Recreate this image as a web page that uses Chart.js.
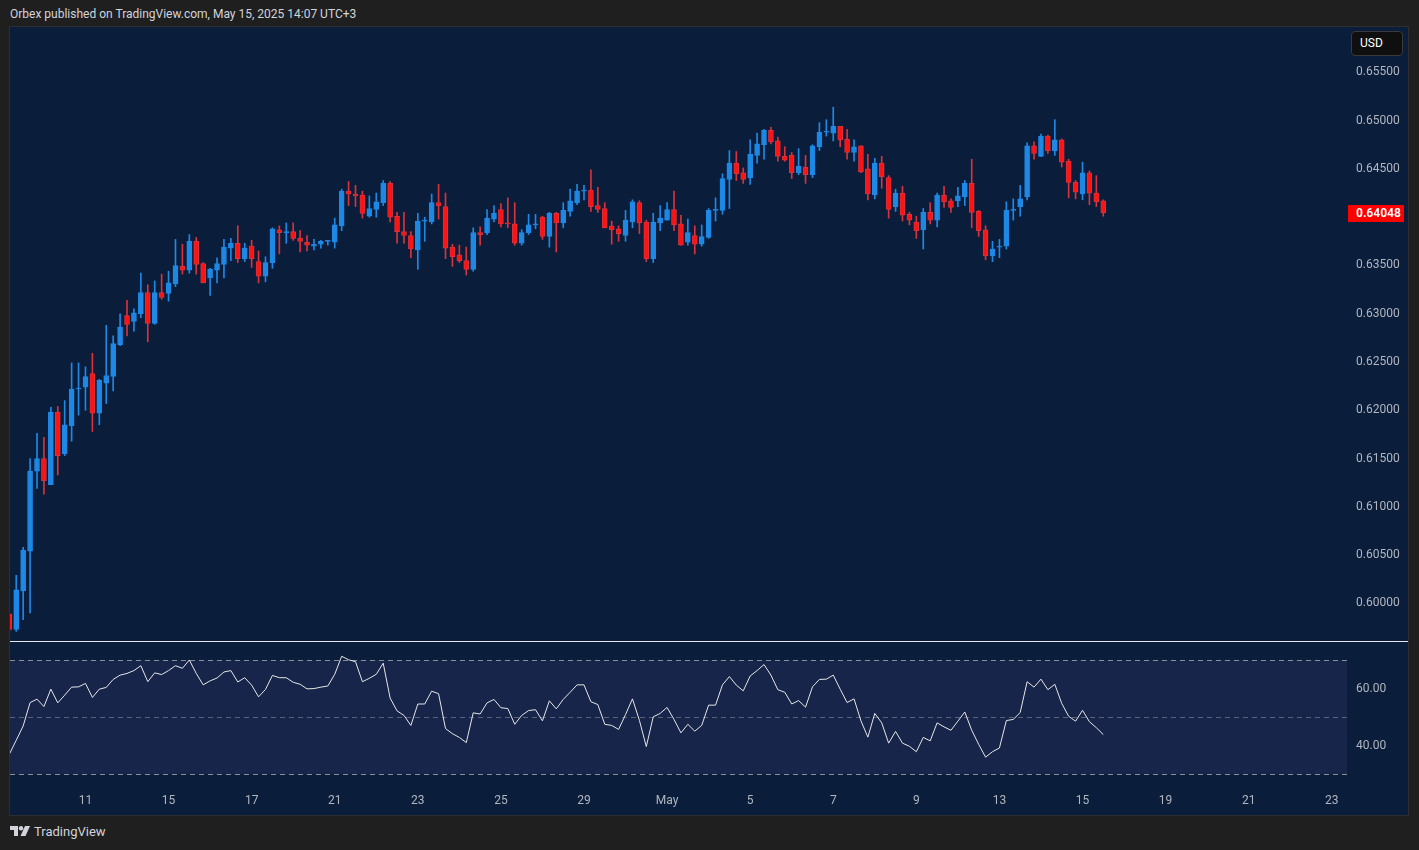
<!DOCTYPE html>
<html>
<head>
<meta charset="utf-8">
<script src="https://cdn.jsdelivr.net/npm/chart.js@4.4.1/dist/chart.umd.min.js"></script>
<style>
  body { margin: 0; width: 1419px; height: 850px; overflow: hidden; background: #1f1f1f; font-family: Roboto, sans-serif; position: relative; }
  #title { position: absolute; left: 10px; top: 7px; font-size: 12px; color: #d1d4dc; }
  #pane { position: absolute; left: 9px; top: 26px; width: 1398px; height: 788px; background: #0a1e3b; border: 1px solid #2e2e2e; }
  #priceBox { position: absolute; left: 10px; top: 27px; width: 1398px; height: 614px; }
  #sep { position: absolute; left: 10px; top: 641px; width: 1398px; height: 1px; background: #e8e8e8; }
  #rsiBox { position: absolute; left: 10px; top: 642px; width: 1398px; height: 172px; }
  #usd { position: absolute; left: 1351px; top: 31px; width: 52px; height: 25px; box-sizing: border-box; background: #0f0f0f; border: 1px solid #3a3a3a; border-radius: 4px; color: #ffffff; font-size: 12px; line-height: 23px; padding-left: 8px; }
  #footer { position: absolute; left: 10px; top: 824px; color: #d1d4dc; font-size: 13px; display: flex; align-items: center; gap: 4px; }
</style>
</head>
<body>
<div id="title">Orbex published on TradingView.com, May 15, 2025 14:07 UTC+3</div>
<div id="pane"></div>
<div id="priceBox"><canvas id="price" width="1398" height="614"></canvas></div>
<div id="sep"></div>
<div id="rsiBox"><canvas id="rsi" width="1398" height="172"></canvas></div>
<div id="usd">USD</div>
<div id="footer">
  <svg width="20" height="11" viewBox="0 0 20 11">
    <path d="M0 0 H8 V10 H4 V4 H0 Z" fill="#d1d4dc"/>
    <circle cx="11" cy="2.2" r="2.2" fill="#d1d4dc"/>
    <path d="M15 0 H20 L15.5 10 H10.5 Z" fill="#d1d4dc"/>
  </svg>
  <span>TradingView</span>
</div>
<script>
// 4h candles, Apr 10 - May 15 2025
const candleOpen = [
  0.5989, 0.5973, 0.6013, 0.6054, 0.6137, 0.6150, 0.6123, 0.6198, 0.6155, 0.6184,
  0.6222, 0.6224, 0.6238, 0.6197, 0.6228, 0.6235, 0.6268, 0.6298, 0.6292, 0.6300,
  0.6322, 0.6290, 0.6322, 0.6321, 0.6331, 0.6349, 0.6345, 0.6375, 0.6352, 0.6337,
  0.6345, 0.6351, 0.6368, 0.6373, 0.6357, 0.6370, 0.6354, 0.6339, 0.6353, 0.6387,
  0.6384, 0.6385, 0.6378, 0.6374, 0.6370, 0.6372, 0.6375, 0.6374, 0.6391, 0.6427,
  0.6424, 0.6423, 0.6401, 0.6408, 0.6415, 0.6435, 0.6401, 0.6385, 0.6381, 0.6366,
  0.6396, 0.6395, 0.6415, 0.6411, 0.6369, 0.6361, 0.6355, 0.6346, 0.6384, 0.6384,
  0.6398, 0.6408, 0.6394, 0.6393, 0.6373, 0.6384, 0.6392, 0.6400, 0.6380, 0.6404,
  0.6394, 0.6406, 0.6415, 0.6427, 0.6428, 0.6412, 0.6409, 0.6391, 0.6388, 0.6381,
  0.6395, 0.6415, 0.6395, 0.6357, 0.6394, 0.6397, 0.6408, 0.6393, 0.6374, 0.6381,
  0.6372, 0.6379, 0.6407, 0.6407, 0.6439, 0.6456, 0.6446, 0.6441, 0.6464, 0.6475,
  0.6490, 0.6479, 0.6463, 0.6464, 0.6446, 0.6452, 0.6444, 0.6473, 0.6488, 0.6487,
  0.6494, 0.6481, 0.6467, 0.6474, 0.6450, 0.6423, 0.6456, 0.6441, 0.6411, 0.6425,
  0.6403, 0.6395, 0.6387, 0.6405, 0.6397, 0.6423, 0.6417, 0.6417, 0.6421, 0.6435,
  0.6406, 0.6387, 0.6360, 0.6369, 0.6370, 0.6407, 0.6411, 0.6421, 0.6474, 0.6463,
  0.6484, 0.6469, 0.6480, 0.6458, 0.6436, 0.6424, 0.6446, 0.6425, 0.6417
];
const candleHigh = [
  0.5990, 0.6029, 0.6058, 0.6150, 0.6176, 0.6172, 0.6203, 0.6204, 0.6210, 0.6249,
  0.6249, 0.6245, 0.6259, 0.6232, 0.6288, 0.6277, 0.6300, 0.6314, 0.6305, 0.6342,
  0.6330, 0.6334, 0.6341, 0.6344, 0.6377, 0.6372, 0.6382, 0.6379, 0.6353, 0.6347,
  0.6358, 0.6377, 0.6378, 0.6391, 0.6373, 0.6376, 0.6365, 0.6359, 0.6389, 0.6391,
  0.6394, 0.6394, 0.6386, 0.6381, 0.6377, 0.6376, 0.6376, 0.6399, 0.6429, 0.6437,
  0.6433, 0.6427, 0.6422, 0.6425, 0.6438, 0.6437, 0.6405, 0.6405, 0.6385, 0.6404,
  0.6400, 0.6424, 0.6434, 0.6425, 0.6372, 0.6371, 0.6369, 0.6389, 0.6390, 0.6408,
  0.6412, 0.6414, 0.6420, 0.6415, 0.6387, 0.6403, 0.6403, 0.6401, 0.6405, 0.6405,
  0.6415, 0.6429, 0.6434, 0.6433, 0.6449, 0.6431, 0.6415, 0.6396, 0.6391, 0.6407,
  0.6418, 0.6417, 0.6397, 0.6404, 0.6412, 0.6415, 0.6427, 0.6402, 0.6398, 0.6391,
  0.6392, 0.6409, 0.6420, 0.6445, 0.6469, 0.6468, 0.6451, 0.6480, 0.6487, 0.6491,
  0.6493, 0.6483, 0.6473, 0.6467, 0.6471, 0.6464, 0.6475, 0.6498, 0.6501, 0.6514,
  0.6494, 0.6491, 0.6480, 0.6474, 0.6465, 0.6461, 0.6463, 0.6443, 0.6429, 0.6432,
  0.6405, 0.6401, 0.6409, 0.6415, 0.6425, 0.6432, 0.6419, 0.6431, 0.6438, 0.6460,
  0.6407, 0.6391, 0.6375, 0.6377, 0.6416, 0.6419, 0.6433, 0.6477, 0.6478, 0.6486,
  0.6485, 0.6501, 0.6481, 0.6460, 0.6438, 0.6457, 0.6448, 0.6443, 0.6418
];
const candleLow = [
  0.5970, 0.5971, 0.5983, 0.5990, 0.6119, 0.6113, 0.6123, 0.6133, 0.6153, 0.6168,
  0.6195, 0.6200, 0.6178, 0.6185, 0.6207, 0.6220, 0.6267, 0.6277, 0.6282, 0.6296,
  0.6271, 0.6289, 0.6315, 0.6313, 0.6328, 0.6341, 0.6342, 0.6341, 0.6332, 0.6319,
  0.6332, 0.6337, 0.6355, 0.6353, 0.6354, 0.6348, 0.6332, 0.6333, 0.6347, 0.6362,
  0.6373, 0.6376, 0.6364, 0.6365, 0.6366, 0.6368, 0.6371, 0.6368, 0.6386, 0.6412,
  0.6411, 0.6399, 0.6400, 0.6400, 0.6412, 0.6395, 0.6373, 0.6373, 0.6358, 0.6346,
  0.6375, 0.6393, 0.6398, 0.6357, 0.6349, 0.6353, 0.6340, 0.6344, 0.6371, 0.6382,
  0.6395, 0.6390, 0.6389, 0.6371, 0.6371, 0.6382, 0.6388, 0.6377, 0.6369, 0.6364,
  0.6389, 0.6401, 0.6413, 0.6418, 0.6406, 0.6405, 0.6389, 0.6372, 0.6375, 0.6375,
  0.6389, 0.6383, 0.6354, 0.6353, 0.6386, 0.6397, 0.6386, 0.6371, 0.6371, 0.6362,
  0.6370, 0.6378, 0.6396, 0.6403, 0.6409, 0.6438, 0.6435, 0.6434, 0.6456, 0.6460,
  0.6476, 0.6458, 0.6458, 0.6440, 0.6444, 0.6435, 0.6441, 0.6469, 0.6484, 0.6479,
  0.6473, 0.6460, 0.6458, 0.6446, 0.6418, 0.6419, 0.6430, 0.6399, 0.6406, 0.6396,
  0.6392, 0.6378, 0.6367, 0.6393, 0.6390, 0.6410, 0.6405, 0.6411, 0.6412, 0.6389,
  0.6380, 0.6356, 0.6354, 0.6358, 0.6367, 0.6397, 0.6401, 0.6418, 0.6460, 0.6463,
  0.6466, 0.6464, 0.6452, 0.6420, 0.6419, 0.6418, 0.6413, 0.6411, 0.6401
];
const candleClose = [
  0.5973, 0.6014, 0.6055, 0.6137, 0.6150, 0.6127, 0.6198, 0.6153, 0.6185, 0.6222,
  0.6223, 0.6235, 0.6197, 0.6231, 0.6236, 0.6269, 0.6286, 0.6289, 0.6301, 0.6322,
  0.6290, 0.6322, 0.6317, 0.6332, 0.6350, 0.6345, 0.6375, 0.6351, 0.6332, 0.6346,
  0.6352, 0.6369, 0.6373, 0.6357, 0.6368, 0.6357, 0.6339, 0.6353, 0.6388, 0.6384,
  0.6385, 0.6378, 0.6375, 0.6371, 0.6372, 0.6375, 0.6376, 0.6392, 0.6427, 0.6424,
  0.6422, 0.6404, 0.6409, 0.6416, 0.6435, 0.6400, 0.6385, 0.6381, 0.6367, 0.6396,
  0.6396, 0.6415, 0.6412, 0.6368, 0.6359, 0.6355, 0.6346, 0.6384, 0.6382, 0.6399,
  0.6404, 0.6393, 0.6393, 0.6373, 0.6384, 0.6392, 0.6393, 0.6380, 0.6404, 0.6394,
  0.6407, 0.6417, 0.6427, 0.6428, 0.6411, 0.6408, 0.6389, 0.6387, 0.6383, 0.6397,
  0.6416, 0.6394, 0.6357, 0.6395, 0.6399, 0.6408, 0.6392, 0.6371, 0.6384, 0.6372,
  0.6380, 0.6407, 0.6408, 0.6440, 0.6456, 0.6445, 0.6439, 0.6465, 0.6476, 0.6490,
  0.6478, 0.6463, 0.6459, 0.6446, 0.6453, 0.6444, 0.6474, 0.6488, 0.6488, 0.6494,
  0.6480, 0.6467, 0.6473, 0.6447, 0.6424, 0.6456, 0.6442, 0.6408, 0.6425, 0.6402,
  0.6397, 0.6386, 0.6405, 0.6397, 0.6423, 0.6416, 0.6410, 0.6422, 0.6435, 0.6405,
  0.6386, 0.6360, 0.6367, 0.6370, 0.6407, 0.6408, 0.6419, 0.6474, 0.6466, 0.6484,
  0.6469, 0.6480, 0.6457, 0.6436, 0.6426, 0.6446, 0.6425, 0.6416, 0.64048
];
const rsiValues = [
  37.0, 41.9, 46.9, 55.1, 56.3, 53.7, 59.8, 55.0, 57.7, 60.5,
  60.6, 61.8, 56.9, 59.8, 60.4, 63.2, 64.7, 65.3, 66.3, 68.0,
  62.4, 65.5, 64.9, 66.3, 68.0, 67.1, 70.0, 65.3, 61.3, 62.7,
  63.7, 65.8, 66.3, 62.3, 63.8, 61.2, 57.1, 59.7, 64.6, 63.8,
  63.8, 62.2, 61.5, 59.9, 60.0, 60.5, 60.9, 65.0, 71.3, 70.1,
  69.4, 62.4, 63.6, 65.0, 68.9, 56.7, 52.2, 50.6, 47.1, 54.6,
  54.6, 59.1, 58.2, 46.0, 44.2, 42.9, 41.1, 51.5, 51.1, 55.0,
  56.2, 53.3, 53.0, 47.5, 50.6, 52.3, 52.6, 48.7, 55.7, 52.9,
  56.2, 58.7, 61.3, 61.3, 55.4, 54.4, 47.5, 47.1, 45.7, 50.9,
  56.4, 48.9, 39.7, 50.1, 51.3, 53.4, 49.2, 44.5, 47.5, 45.1,
  47.1, 54.2, 54.2, 61.3, 64.2, 61.2, 59.2, 64.4, 66.3, 68.4,
  64.7, 59.6, 58.7, 54.6, 55.8, 53.5, 60.6, 63.2, 63.3, 64.7,
  59.8, 55.1, 56.4, 48.7, 43.0, 51.3, 48.0, 40.9, 45.0, 40.9,
  39.8, 37.9, 42.9, 41.7, 48.0, 46.6, 45.4, 48.6, 51.8, 45.4,
  40.5, 36.0, 37.9, 39.2, 48.8, 49.2, 51.6, 62.4, 60.5, 63.3,
  59.6, 61.5, 54.8, 50.3, 48.6, 52.4, 48.4, 46.3, 43.9
];
// day labels sit on the first 4h bar of the day
const dayTickIndex = [11, 23, 35, 47, 59, 71, 83, 95, 107, 119, 131, 143, 155, 167, 179, 191];
const dayTickLabels = ['11', '15', '17', '21', '23', '25', '29', 'May', '5', '7', '9', '13', '15', '19', '21', '23'];
const priceTicks = [0.600, 0.605, 0.610, 0.615, 0.620, 0.625, 0.630, 0.635, 0.640, 0.645, 0.650, 0.655];
const rsiTicks = [40, 60];
const rsiBands = [70, 50, 30];

const X_MIN = 0.1, X_MAX = 193.2;
const BLUE = '#1e88e5', RED = '#ff1212', RED_EDGE = '#d9323c';
const TICK_FONT = { family: 'Roboto', size: 12 };
const TICK_COLOR = '#b2b5be';

const isUp = i => candleClose[i] >= candleOpen[i];

function rightAxis(extra) {
  return Object.assign({
    position: 'right',
    grid: { display: false, drawTicks: false },
    border: { display: false },
    ticks: { color: TICK_COLOR, font: TICK_FONT, padding: 9 },
    afterFit: s => { s.width = 61; s.paddingTop = 0; s.paddingBottom = 0; }
  }, extra);
}

const lastPricePlugin = {
  id: 'lastPrice',
  afterDraw(chart) {
    const { ctx, chartArea: a, scales: { y } } = chart;
    const last = candleClose[candleClose.length - 1];
    const py = Math.round(y.getPixelForValue(last));
    ctx.save();
    ctx.fillStyle = '#ff0000';
    ctx.fillRect(a.right + 1, py - 8, 56, 17);
    ctx.fillStyle = '#ffffff';
    ctx.font = 'bold 12px Roboto';
    ctx.textBaseline = 'middle';
    ctx.fillText(last.toFixed(5), a.right + 9, py + 1);
    ctx.restore();
  }
};

new Chart(document.getElementById('price'), {
  type: 'bar',
  data: {
    datasets: [
      {
        data: candleOpen.map((o, i) => ({ x: i, y: [o, candleClose[i]] })),
        grouped: false,
        order: 0,
        barThickness: 5,
        minBarLength: 1,
        borderWidth: 1,
        borderSkipped: false,
        backgroundColor: c => isUp(c.dataIndex) ? BLUE : RED,
        borderColor: c => isUp(c.dataIndex) ? BLUE : RED_EDGE
      },
      {
        data: candleLow.map((l, i) => ({ x: i, y: [l, candleHigh[i]] })),
        grouped: false,
        order: 1,
        barThickness: 1,
        backgroundColor: c => isUp(c.dataIndex) ? BLUE : RED_EDGE
      }
    ]
  },
  options: {
    responsive: false,
    animation: false,
    layout: { padding: 0 },
    plugins: { legend: { display: false }, tooltip: { enabled: false } },
    scales: {
      x: { type: 'linear', min: X_MIN, max: X_MAX, offset: false, display: false },
      y: rightAxis({
        min: 0.5961,
        max: 0.6597,
        afterBuildTicks: s => { s.ticks = priceTicks.map(v => ({ value: v })); },
        ticks: { color: TICK_COLOR, font: TICK_FONT, padding: 9, callback: v => v.toFixed(5) }
      })
    }
  },
  plugins: [lastPricePlugin]
});

const bandPlugin = {
  id: 'rsiBand',
  beforeDatasetsDraw(chart) {
    const { ctx, chartArea: a, scales: { y } } = chart;
    const top = y.getPixelForValue(rsiBands[0]);
    const bot = y.getPixelForValue(rsiBands[2]);
    ctx.save();
    ctx.fillStyle = '#17254a';
    ctx.fillRect(a.left, top, a.right - a.left, bot - top);
    ctx.lineWidth = 1;
    ctx.setLineDash([5, 4]);
    rsiBands.forEach((v, k) => {
      const py = Math.round(y.getPixelForValue(v)) + 0.5;
      ctx.strokeStyle = k === 1 ? 'rgba(136,140,152,0.6)' : '#8a8e98';
      ctx.beginPath();
      ctx.moveTo(a.left, py);
      ctx.lineTo(a.right, py);
      ctx.stroke();
    });
    ctx.restore();
  }
};

new Chart(document.getElementById('rsi'), {
  type: 'line',
  data: {
    datasets: [{
      data: rsiValues.map((v, i) => ({ x: i, y: v })),
      borderColor: '#e6e6e6',
      borderWidth: 1,
      pointRadius: 0,
      tension: 0
    }]
  },
  options: {
    responsive: false,
    animation: false,
    layout: { padding: 0 },
    plugins: { legend: { display: false }, tooltip: { enabled: false } },
    scales: {
      x: {
        type: 'linear',
        min: X_MIN,
        max: X_MAX,
        offset: false,
        grid: { display: false, drawTicks: false },
        border: { display: false },
        afterBuildTicks: s => { s.ticks = dayTickIndex.map(v => ({ value: v })); },
        afterFit: s => { s.height = 28; s.paddingLeft = 0; s.paddingRight = 0; },
        ticks: {
          color: TICK_COLOR,
          font: TICK_FONT,
          padding: 8,
          autoSkip: false,
          maxRotation: 0,
          callback: v => dayTickLabels[dayTickIndex.indexOf(v)]
        }
      },
      y: rightAxis({
        min: 25.9,
        max: 76.3,
        afterBuildTicks: s => { s.ticks = rsiTicks.map(v => ({ value: v })); },
        ticks: { color: TICK_COLOR, font: TICK_FONT, padding: 9, callback: v => v.toFixed(2) }
      })
    }
  },
  plugins: [bandPlugin]
});
</script>
</body>
</html>
